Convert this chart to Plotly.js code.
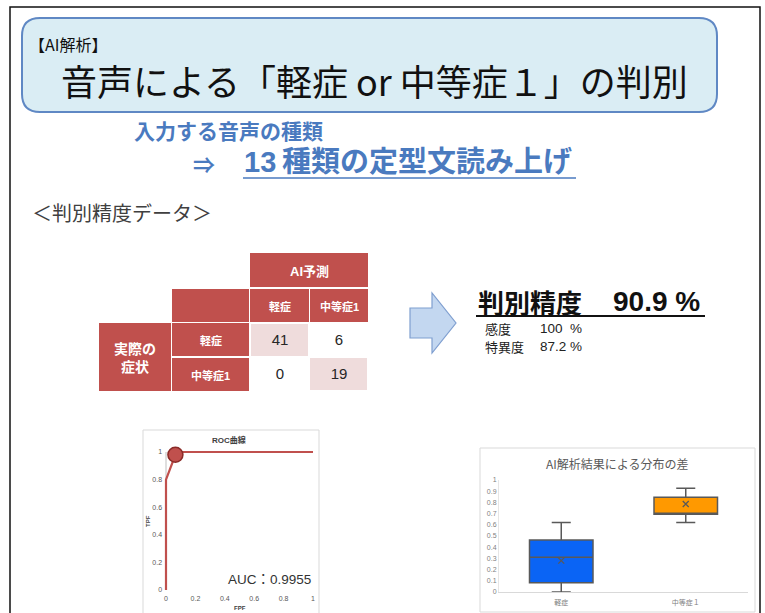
<!DOCTYPE html>
<html><head><meta charset="utf-8">
<script src="https://cdn.plot.ly/plotly-3.0.1.min.js"></script>
<style>html,body{margin:0;padding:0;background:#fff}#chart{width:765px;height:613px}</style>
</head><body><div id="chart"></div>
<script>
// ---------------- data ----------------
const slideTag = '【AI解析】';
const slideTitle = '音声による「軽症 or 中等症１」の判別';
const inputLabel = '入力する音声の種類';
const inputArrow = '⇒';
const inputValue = '13\u2009種類の定型文読み上げ';
const sectionTitle = '＜判別精度データ＞';

const predHeader = 'AI予測';
const actualHeader = '実際の<br>症状';
const classLabels = ['軽症', '中等症1'];
const confusionCounts = [[41, 6], [0, 19]]; // rows: actual, cols: predicted

const accuracyLabel = '判別精度';
const accuracyValue = '90.9 %';
const metricLabels = ['感度', '特異度'];
const metricValues = ['100\u00a0\u00a0%', '87.2 %'];

const rocTitle = 'ROC曲線';
const rocFPF = [0, 0, 0.064, 0.085, 1];
const rocTPF = [0, 0.8, 0.98, 1, 1];
const rocPointFPF = [0.064];
const rocPointTPF = [0.98];
const aucText = 'AUC：0.9955';
const rocXTitle = 'FPF';
const rocYTitle = 'TPF';

const boxTitle = 'AI解析結果による分布の差';
const boxCategories = ['軽症', '中等症１'];
const boxQ1 = [0.083, 0.694];
const boxMedian = [0.31, 0.70];
const boxQ3 = [0.464, 0.846];
const boxLower = [0, 0.62];
const boxUpper = [0.62, 0.926];
const boxMean = [0.28, 0.786];
const boxColors = ['#0a64f5', '#ff9900'];

// ---------------- layout helpers ----------------
const W = 765, H = 613;
const X = px => px / W;
const Y = py => 1 - py / H;
const JP = '"Noto Sans CJK JP", sans-serif';
const LAT = '"Liberation Sans", "Noto Sans CJK JP", sans-serif';
const RED = '#c0504d';

function rectShape(x0, y0, x1, y1, fill, line, lw, layer) {
  return {type: 'rect', xref: 'paper', yref: 'paper', x0: X(x0), x1: X(x1), y0: Y(y1), y1: Y(y0),
    fillcolor: fill, line: {color: line || 'rgba(0,0,0,0)', width: lw || 0}, layer: layer || 'below'};
}
function pathShape(pts, fill, line, lw, layer) {
  let d = pts.map((p, i) => (i ? 'L' : 'M') + X(p[0]) + ',' + Y(p[1])).join(' ') + ' Z';
  return {type: 'path', xref: 'paper', yref: 'paper', path: d, fillcolor: fill,
    line: {color: line, width: lw}, layer: layer || 'above'};
}
function roundRect(x0, y0, x1, y1, r) {
  const p = (x, y) => X(x) + ',' + Y(y);
  return `M${p(x0 + r, y0)} L${p(x1 - r, y0)} Q${p(x1, y0)} ${p(x1, y0 + r)} L${p(x1, y1 - r)} Q${p(x1, y1)} ${p(x1 - r, y1)} L${p(x0 + r, y1)} Q${p(x0, y1)} ${p(x0, y1 - r)} L${p(x0, y0 + r)} Q${p(x0, y0)} ${p(x0 + r, y0)} Z`;
}
function lineShape(x0, y0, x1, y1, color, w) {
  return {type: 'line', xref: 'paper', yref: 'paper', x0: X(x0), x1: X(x1), y0: Y(y0), y1: Y(y1),
    line: {color: color, width: w}};
}
function ann(text, x, y, size, color, family, xanchor, extra) {
  return Object.assign({text: text, xref: 'paper', yref: 'paper', x: X(x), y: Y(y), showarrow: false,
    xanchor: xanchor || 'left', yanchor: 'middle', font: {size: size, color: color, family: family || JP}}, extra || {});
}

const shapes = [];
const annotations = [];

// slide frame
shapes.push(rectShape(10, 7, 760, 640, 'rgba(0,0,0,0)', '#111111', 1.5, 'above'));
// title box
shapes.push({type: 'path', xref: 'paper', yref: 'paper', path: roundRect(22, 18, 717, 112, 18),
  fillcolor: '#daedf4', line: {color: '#5f88c4', width: 2}, layer: 'below'});
annotations.push(ann(slideTag, 27, 44, 16, '#111111', JP));
annotations.push(ann(slideTitle, 374, 80, 36, '#111111', JP, 'center'));

// input description
annotations.push(ann('<b>' + inputLabel + '</b>', 132, 130, 21, '#4a7abf', JP));
annotations.push(ann('<b>' + inputArrow + '</b>', 204, 163, 22, '#4a7abf', JP, 'center'));
annotations.push(ann('<b>' + inputValue + '</b>', 242, 162, 29, '#4a7abf', LAT));
shapes.push(lineShape(243, 178, 576, 178, '#4a7abf', 1.5));
annotations.push(ann(sectionTitle, 30, 212, 20, '#404040', JP));

// confusion matrix headers
const hdr = [
  [250, 253, 368, 287, predHeader, 13],
  [172, 289, 249, 322, '', 11],
  [250, 289, 309, 322, classLabels[0], 11],
  [310, 289, 368, 322, classLabels[1], 11],
  [99, 323, 171, 391, actualHeader, 14],
  [172, 323, 249, 356, classLabels[0], 11],
  [172, 358, 249, 391, classLabels[1], 11]
];
hdr.forEach(c => {
  shapes.push(rectShape(c[0], c[1], c[2], c[3], RED, null, 0, 'below'));
  if (c[4]) annotations.push(ann('<b>' + c[4] + '</b>', (c[0] + c[2]) / 2, (c[1] + c[3]) / 2 + 1, c[5], '#ffffff', LAT, 'center'));
});

// arrow
shapes.push(pathShape([[410, 308], [432, 308], [432, 293], [456, 323], [432, 353], [432, 338], [410, 338]],
  '#c3d7f0', '#7f9fd0', 1.2));

// accuracy text
annotations.push(ann('<b>' + accuracyLabel + '</b>', 476, 301, 26, '#111111', JP));
annotations.push(ann('<b>' + accuracyValue + '</b>', 611, 301, 28, '#111111', LAT));
shapes.push(lineShape(476, 316, 705, 316, '#111111', 2));
annotations.push(ann(metricLabels[0], 483, 328, 13, '#222222', JP));
annotations.push(ann(metricLabels[1], 483, 346, 13, '#222222', JP));
annotations.push(ann(metricValues[0], 538, 328, 13.5, '#222222', LAT));
annotations.push(ann(metricValues[1], 538, 346, 13.5, '#222222', LAT));

// chart boxes
shapes.push(rectShape(143, 430, 319, 640, '#ffffff', '#d9d9d9', 1, 'below'));
shapes.push(rectShape(480, 448, 755, 612, '#ffffff', '#d9d9d9', 1, 'below'));

// ROC labels
annotations.push(ann('<b>' + rocTitle + '</b>', 229, 440, 8, '#404040', LAT, 'center'));
annotations.push(ann('<b>' + rocXTitle + '</b>', 240, 608, 6, '#404040', LAT, 'center'));
annotations.push(ann('<b>' + rocYTitle + '</b>', 148, 521, 6, '#404040', LAT, 'center', {textangle: -90}));
annotations.push(ann(aucText, 313, 579, 13.5, '#333333', LAT, 'right'));
// ROC y-axis line (at FPF = 0)
shapes.push({type: 'line', xref: 'x', yref: 'y', x0: 0, x1: 0, y0: 0, y1: 1, line: {color: '#bfbfbf', width: 1}, layer: 'below'});

// box chart title
annotations.push(ann(boxTitle, 617, 463, 12, '#595959', JP, 'center'));

// ---------------- traces ----------------
const traces = [];
traces.push({type: 'scatter', mode: 'lines', x: rocFPF, y: rocTPF, xaxis: 'x', yaxis: 'y',
  line: {color: RED, width: 2.2}, hoverinfo: 'skip', showlegend: false});
traces.push({type: 'scatter', mode: 'markers', x: rocPointFPF, y: rocPointTPF, xaxis: 'x', yaxis: 'y',
  marker: {size: 15, color: RED, line: {color: '#8a2b28', width: 1.5}}, cliponaxis: false, hoverinfo: 'skip', showlegend: false});

for (let i = 0; i < boxCategories.length; i++) {
  traces.push({type: 'box', xaxis: 'x2', yaxis: 'y2', x: [boxCategories[i]],
    q1: [boxQ1[i]], median: [boxMedian[i]], q3: [boxQ3[i]], lowerfence: [boxLower[i]], upperfence: [boxUpper[i]],
    width: 0.51, fillcolor: boxColors[i], line: {color: '#595959', width: 1.5}, whiskerwidth: 0.3,
    boxpoints: false, hoverinfo: 'skip', showlegend: false});
}
traces.push({type: 'scatter', mode: 'markers', x: boxCategories, y: boxMean, xaxis: 'x2', yaxis: 'y2',
  marker: {symbol: 'x-thin', size: 6, line: {color: '#595959', width: 1.3}}, hoverinfo: 'skip', showlegend: false});

traces.push({type: 'heatmap', xaxis: 'x3', yaxis: 'y3', x: classLabels, y: classLabels, z: confusionCounts,
  zmin: 0, zmax: 41, showscale: false, xgap: 2, ygap: 2,
  colorscale: [[0, '#ffffff'], [0.3, '#ffffff'], [0.3, '#efdcdc'], [1, '#efdcdc']],
  texttemplate: '%{z}', textfont: {size: 15, color: '#262626', family: LAT}, hoverinfo: 'skip'});

// ---------------- layout ----------------
const tickFont = {size: 7, color: '#595959', family: LAT};
const layout = {
  width: W, height: H, margin: {l: 0, r: 0, t: 0, b: 0, pad: 0},
  paper_bgcolor: '#ffffff', plot_bgcolor: 'rgba(0,0,0,0)', showlegend: false,
  xaxis: {domain: [X(166 - 0.02 * 147), X(313 + 0.02 * 147)], range: [-0.02, 1.02], dtick: 0.2, tick0: 0,
    showgrid: false, zeroline: false, showline: false, ticks: '', tickfont: tickFont, anchor: 'y'},
  yaxis: {domain: [Y(590 + 0.02 * 138), Y(452 - 0.02 * 138)], range: [-0.02, 1.02], dtick: 0.2, tick0: 0,
    showgrid: false, zeroline: false, showline: false, ticks: '', tickfont: tickFont, anchor: 'x'},
  xaxis2: {domain: [X(499), X(748)], range: [-0.5, 1.5], type: 'category', showgrid: false, zeroline: false,
    showline: true, linecolor: '#d9d9d9', linewidth: 1, ticks: 'outside', ticklen: 4, tickcolor: 'rgba(0,0,0,0)',
    tickfont: {size: 7, color: '#7f7f7f', family: JP}, anchor: 'y2'},
  yaxis2: {domain: [Y(592), Y(480)], range: [0, 1], dtick: 0.1, tick0: 0, showgrid: false, zeroline: false,
    showline: true, linecolor: '#e6e6e6', linewidth: 1, ticks: '', tickfont: {size: 7, color: '#7f7f7f', family: LAT}, anchor: 'x2'},
  xaxis3: {domain: [X(250), X(368)], type: 'category', visible: false, anchor: 'y3'},
  yaxis3: {domain: [Y(391), Y(323)], type: 'category', autorange: 'reversed', visible: false, anchor: 'x3'},
  boxmode: 'overlay',
  shapes: shapes, annotations: annotations
};

Plotly.newPlot('chart', traces, layout, {displayModeBar: false, staticPlot: true});
</script>
</body></html>
